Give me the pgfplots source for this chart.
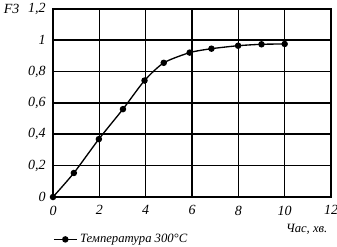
\documentclass[border=0pt]{standalone}
\usepackage{pgfplots}
\pgfplotsset{compat=1.18}
\usepackage{fontspec}
\setmainfont{Liberation Serif}
\begin{document}
\begin{tikzpicture}
\begin{axis}[
  name=ax,
  scale only axis,
  width=208.5pt, height=141.25pt,
  xmin=0, xmax=12, ymin=0, ymax=1.2,
  xtick={0,2,...,12},
  ytick={0,0.2,0.4,0.6,0.8,1,1.2},
  grid=major,
  major grid style={black, line width=1.2pt},
  axis line style={black, line width=1.3pt},
  tick style={draw=none},
  /pgf/number format/use comma,
  /pgf/number format/assume math mode=true,
  tick label style={font=\fontsize{10.5}{12}\selectfont\itshape},
  xticklabel style={yshift=-3pt},
  yticklabel style={xshift=-2pt},
  legend style={draw=none, fill=none, at={(axis description cs:0,-0.225)}, anchor=west,
    font=\fontsize{9.5}{11}\selectfont\itshape, inner sep=0pt},
  legend cell align=left,
  clip=false,
]
\addplot[black, line width=1pt, smooth, tension=0.4, mark=*, mark size=1.9pt]
  coordinates {(0,0) (0.9,0.153) (1.98,0.369) (3.02,0.56) (3.95,0.742) (4.78,0.855) (5.9,0.92) (6.84,0.945) (7.99,0.964) (9.0,0.973) (10,0.975)};
\addlegendentry{Температура 300°C}
\node[font=\fontsize{10.5}{12}\selectfont\itshape] at ([xshift=-31pt,yshift=0pt]rel axis cs:0,1) {F3};
\node[font=\fontsize{9.5}{11}\selectfont\itshape] at ([yshift=-24pt]axis cs:10.95,0) {Час, хв.};
\end{axis}
\pgfresetboundingbox
\path[use as bounding box] ([xshift=-39.75pt,yshift=-36.75pt]ax.south west) rectangle ([xshift=4.5pt,yshift=6.5pt]ax.north east);
\end{tikzpicture}
\end{document}
